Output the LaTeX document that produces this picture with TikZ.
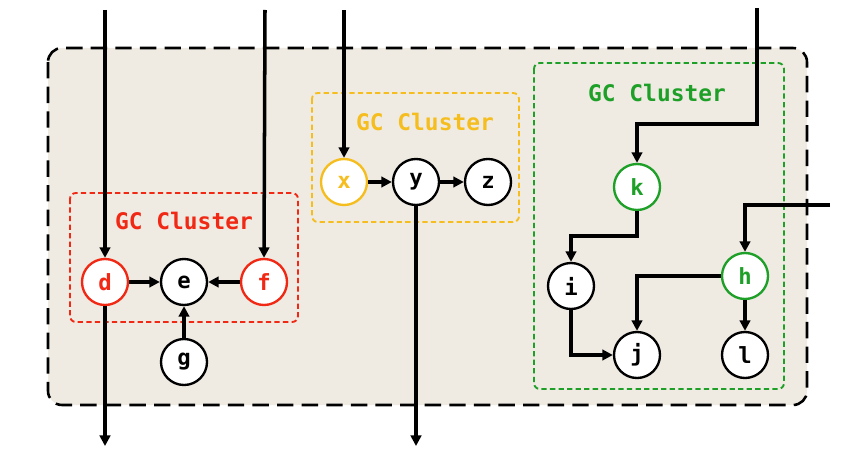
\documentclass[tikz,border=0pt]{standalone}
\usepackage{fontspec}
\setmonofont{DejaVu Sans Mono}
\usetikzlibrary{arrows.meta,positioning}
\definecolor{gcred}{RGB}{240,40,20}
\definecolor{gcyellow}{RGB}{245,190,30}
\definecolor{gcgreen}{RGB}{30,160,40}
\definecolor{boxbeige}{RGB}{239,235,226}

\begin{document}
\begin{tikzpicture}[x=0.03cm, y=-0.03cm,
  vnode/.style={circle, draw, line width=2pt, fill=white, minimum size=1.38cm,
                inner sep=0pt, font=\ttfamily\bfseries\fontsize{19}{19}\selectfont},
  gcbox/.style={line width=1.6pt, dash pattern=on 4.5pt off 2.8pt, rounded corners=5pt},
  gclabel/.style={font=\ttfamily\bfseries\fontsize{19.5}{20}\selectfont},
  arr/.style={-{Triangle[length=9pt, width=9pt]}, line width=3pt}
]
\useasboundingbox (0,0) rectangle (864,452);

% outer region
\draw[fill=boxbeige, line width=2.2pt, dash pattern=on 14pt off 7pt, rounded corners=12pt]
  (48,48) rectangle (807,405);

% clusters
\draw[gcbox, gcred]    (70,193)  rectangle (298,322);
\draw[gcbox, gcyellow] (312,93)  rectangle (519,222);
\draw[gcbox, gcgreen]  (534,63)  rectangle (784,389);

\node[gclabel, text=gcred]    (lblred)    at (184,221) {GC Cluster};
\node[gclabel, text=gcyellow] (lblyellow) at (425,122) {GC Cluster};
\node[gclabel, text=gcgreen]  (lblgreen)  at (657,93)  {GC Cluster};

% vertices
\node[vnode, draw=gcred, text=gcred]       (d) at (105,282) {d};
\node[vnode]                               (e) at (184,282) {e};
\node[vnode, draw=gcred, text=gcred]       (f) at (264,282) {f};
\node[vnode]                               (g) at (184,362) {g};
\node[vnode, draw=gcyellow, text=gcyellow] (x) at (344,182) {x};
\node[vnode]                               (y) at (416,182) {y};
\node[vnode]                               (z) at (488,182) {z};
\node[vnode, draw=gcgreen, text=gcgreen]   (k) at (637,187) {k};
\node[vnode]                               (i) at (571,286) {i};
\node[vnode, draw=gcgreen, text=gcgreen]   (h) at (745,276) {h};
\node[vnode]                               (j) at (637,355) {j};
\node[vnode]                               (l) at (745,355) {l};

% free ends
\coordinate (dIn)  at (105,10);
\coordinate (fIn)  at (265,10);
\coordinate (xIn)  at (344,10);
\coordinate (kIn)  at (757,8);
\coordinate (hIn)  at (830,205);
\coordinate (dOut) at (105,446);
\coordinate (yOut) at (416,446);

\draw[arr] (dIn) -- (d.north);
\draw[arr] (fIn) -- (f.north);
\draw[arr] (xIn) -- (x.north);
\draw[arr] (d.south) -- (dOut);
\draw[arr] (y.south) -- (yOut);
\draw[arr] (d.east) -- (e.west);
\draw[arr] (f.west) -- (e.east);
\draw[arr] (g.north) -- (e.south);
\draw[arr] (x.east) -- (y.west);
\draw[arr] (y.east) -- (z.west);
\draw[arr] (kIn) -- (757,124) -| (k.north);
\draw[arr] (k.south) -- (637,236) -| (i.north);
\draw[arr] (hIn) -| (h.north);
\draw[arr] (h.west) -| (j.north);
\draw[arr] (i.south) |- (j.west);
\draw[arr] (h.south) -- (l.north);
\end{tikzpicture}
\end{document}
